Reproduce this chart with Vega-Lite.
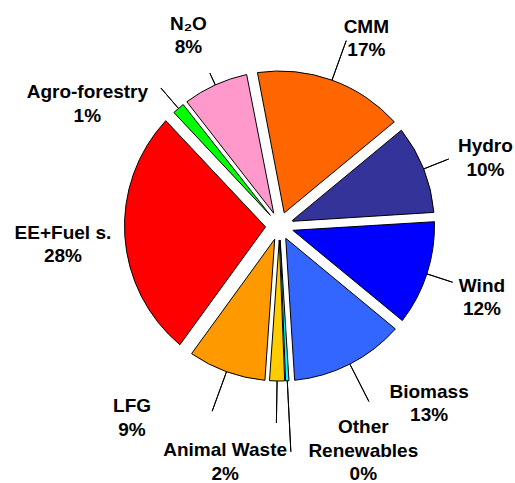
{
  "$schema": "https://vega.github.io/schema/vega-lite/v6.json",
  "width": 471,
  "height": 452,
  "autosize": {"type": "none"},
  "padding": {"left": 44, "top": 0, "right": 0, "bottom": 31},
  "background": "white",
  "config": {
    "view": {"stroke": null},
    "text": {"font": "Liberation Sans", "fontWeight": "bold", "fontSize": 19, "color": "black"}
  },
  "data": {
    "values": [
      {"k": 1, "name": "CMM", "label": "CMM\n17%", "v": 17},
      {"k": 2, "name": "Hydro", "label": "Hydro\n10%", "v": 10},
      {"k": 3, "name": "Wind", "label": "Wind\n12%", "v": 12},
      {"k": 4, "name": "Biomass", "label": "Biomass\n13%", "v": 13},
      {"k": 5, "name": "Other Renewables", "label": "Other\nRenewables\n0%", "v": 0.4},
      {"k": 6, "name": "Animal Waste", "label": "Animal Waste\n2%", "v": 1.7},
      {"k": 7, "name": "LFG", "label": "LFG\n9%", "v": 8.9},
      {"k": 8, "name": "EE+Fuel s.", "label": "EE+Fuel s.\n28%", "v": 28},
      {"k": 9, "name": "Agro-forestry", "label": "Agro-forestry\n1%", "v": 1.4},
      {"k": 10, "name": "N₂O", "label": "N₂O\n8%", "v": 7.6}
    ]
  },
  "transform": [
    {"stack": "v", "groupby": [], "sort": [{"field": "k", "order": "ascending"}], "as": ["v0", "v1"]}
  ],
  "layer": [
    {
      "transform": [{"filter": {"field": "name", "oneOf": ["EE+Fuel s."]}}],
      "mark": {"type": "arc", "padAngle": 0.139, "innerRadius": 14, "outerRadius": 155, "stroke": "black", "strokeWidth": 1},
      "encoding": {
        "theta": {"field": "v0", "type": "quantitative", "stack": null, "scale": {"domain": [0, 100], "range": [-0.1885, 6.0947]}},
        "theta2": {"field": "v1"},
        "color": {"field": "name", "type": "nominal", "legend": null, "scale": {"domain": ["CMM", "Hydro", "Wind", "Biomass", "Other Renewables", "Animal Waste", "LFG", "EE+Fuel s.", "Agro-forestry", "N₂O"], "range": ["#FF6600", "#333399", "#0000FF", "#3366FF", "#00FFFF", "#FFCC00", "#FF9900", "#FF0000", "#00FF00", "#FF99CC"]}}
      }
    },
    {
      "transform": [{"filter": {"field": "name", "oneOf": ["CMM"]}}],
      "mark": {"type": "arc", "padAngle": 0.091, "innerRadius": 14, "outerRadius": 155, "stroke": "black", "strokeWidth": 1},
      "encoding": {
        "theta": {"field": "v0", "type": "quantitative", "stack": null, "scale": {"domain": [0, 100], "range": [-0.1885, 6.0947]}},
        "theta2": {"field": "v1"},
        "color": {"field": "name", "type": "nominal", "legend": null}
      }
    },
    {
      "transform": [{"filter": {"field": "name", "oneOf": ["Biomass", "Wind"]}}],
      "mark": {"type": "arc", "padAngle": 0.07, "innerRadius": 14, "outerRadius": 155, "stroke": "black", "strokeWidth": 1},
      "encoding": {
        "theta": {"field": "v0", "type": "quantitative", "stack": null, "scale": {"domain": [0, 100], "range": [-0.1885, 6.0947]}},
        "theta2": {"field": "v1"},
        "color": {"field": "name", "type": "nominal", "legend": null}
      }
    },
    {
      "transform": [{"filter": {"field": "name", "oneOf": ["Hydro", "LFG", "N₂O"]}}],
      "mark": {"type": "arc", "padAngle": 0.05, "innerRadius": 14, "outerRadius": 155, "stroke": "black", "strokeWidth": 1},
      "encoding": {
        "theta": {"field": "v0", "type": "quantitative", "stack": null, "scale": {"domain": [0, 100], "range": [-0.1885, 6.0947]}},
        "theta2": {"field": "v1"},
        "color": {"field": "name", "type": "nominal", "legend": null}
      }
    },
    {
      "transform": [{"filter": {"field": "name", "oneOf": ["Animal Waste", "Agro-forestry"]}}],
      "mark": {"type": "arc", "padAngle": 0.009, "innerRadius": 14, "outerRadius": 155, "stroke": "black", "strokeWidth": 1},
      "encoding": {
        "theta": {"field": "v0", "type": "quantitative", "stack": null, "scale": {"domain": [0, 100], "range": [-0.1885, 6.0947]}},
        "theta2": {"field": "v1"},
        "color": {"field": "name", "type": "nominal", "legend": null}
      }
    },
    {
      "transform": [{"filter": {"field": "name", "oneOf": ["Other Renewables"]}}],
      "mark": {"type": "arc", "padAngle": 0.003, "innerRadius": 14, "outerRadius": 155, "stroke": "black", "strokeWidth": 1},
      "encoding": {
        "theta": {"field": "v0", "type": "quantitative", "stack": null, "scale": {"domain": [0, 100], "range": [-0.1885, 6.0947]}},
        "theta2": {"field": "v1"},
        "color": {"field": "name", "type": "nominal", "legend": null}
      }
    },
    {
      "transform": [{"filter": {"field": "name", "oneOf": ["N₂O"]}}],
      "mark": {"type": "arc", "padAngle": 3.1416, "innerRadius": 155, "outerRadius": 168, "stroke": "black", "strokeWidth": 1, "fill": null},
      "encoding": {
        "theta": {"field": "v0", "type": "quantitative", "stack": null, "scale": {"domain": [0, 100], "range": [-0.1885, 6.0947]}},
        "theta2": {"field": "v1"}
      }
    },
    {
      "transform": [{"filter": {"field": "name", "oneOf": ["Hydro", "Wind", "Agro-forestry"]}}],
      "mark": {"type": "arc", "padAngle": 3.1416, "innerRadius": 155, "outerRadius": 182, "stroke": "black", "strokeWidth": 1, "fill": null},
      "encoding": {
        "theta": {"field": "v0", "type": "quantitative", "stack": null, "scale": {"domain": [0, 100], "range": [-0.1885, 6.0947]}},
        "theta2": {"field": "v1"}
      }
    },
    {
      "transform": [{"filter": {"field": "name", "oneOf": ["CMM", "Biomass", "Animal Waste", "LFG"]}}],
      "mark": {"type": "arc", "padAngle": 3.1416, "innerRadius": 155, "outerRadius": 197, "stroke": "black", "strokeWidth": 1, "fill": null},
      "encoding": {
        "theta": {"field": "v0", "type": "quantitative", "stack": null, "scale": {"domain": [0, 100], "range": [-0.1885, 6.0947]}},
        "theta2": {"field": "v1"}
      }
    },
    {
      "transform": [{"filter": {"field": "name", "oneOf": ["Other Renewables"]}}],
      "mark": {"type": "arc", "padAngle": 3.1416, "innerRadius": 155, "outerRadius": 226, "stroke": "black", "strokeWidth": 1, "fill": null},
      "encoding": {
        "theta": {"field": "v0", "type": "quantitative", "stack": null, "scale": {"domain": [0, 100], "range": [-0.1885, 6.0947]}},
        "theta2": {"field": "v1"}
      }
    },
    {
      "transform": [
        {"filter": {"field": "name", "oneOf": ["Wind", "EE+Fuel s.", "N₂O"]}},
        {"fold": ["v0", "v1"], "as": ["edge", "pos"]},
        {"aggregate": [{"op": "mean", "field": "pos", "as": "mid"}], "groupby": ["name", "label"]}
      ],
      "mark": {"type": "text", "radius": 215, "dx": -2, "dy": -6.75, "lineBreak": "\n", "lineHeight": 23.5, "align": "center", "baseline": "middle"},
      "encoding": {
        "theta": {"field": "mid", "type": "quantitative", "stack": null, "scale": {"domain": [0, 100], "range": [-0.1885, 6.0947]}},
        "text": {"field": "label", "type": "nominal"}
      }
    },
    {
      "transform": [
        {"filter": {"field": "name", "oneOf": ["CMM"]}},
        {"fold": ["v0", "v1"], "as": ["edge", "pos"]},
        {"aggregate": [{"op": "mean", "field": "pos", "as": "mid"}], "groupby": ["name", "label"]}
      ],
      "mark": {"type": "text", "radius": 215, "dx": 14, "dy": 3.25, "lineBreak": "\n", "lineHeight": 23.5, "align": "center", "baseline": "middle"},
      "encoding": {
        "theta": {"field": "mid", "type": "quantitative", "stack": null, "scale": {"domain": [0, 100], "range": [-0.1885, 6.0947]}},
        "text": {"field": "label", "type": "nominal"}
      }
    },
    {
      "transform": [
        {"filter": {"field": "name", "oneOf": ["Hydro"]}},
        {"fold": ["v0", "v1"], "as": ["edge", "pos"]},
        {"aggregate": [{"op": "mean", "field": "pos", "as": "mid"}], "groupby": ["name", "label"]}
      ],
      "mark": {"type": "text", "radius": 215, "dx": 6, "dy": -0.75, "lineBreak": "\n", "lineHeight": 23.5, "align": "center", "baseline": "middle"},
      "encoding": {
        "theta": {"field": "mid", "type": "quantitative", "stack": null, "scale": {"domain": [0, 100], "range": [-0.1885, 6.0947]}},
        "text": {"field": "label", "type": "nominal"}
      }
    },
    {
      "transform": [
        {"filter": {"field": "name", "oneOf": ["Biomass"]}},
        {"fold": ["v0", "v1"], "as": ["edge", "pos"]},
        {"aggregate": [{"op": "mean", "field": "pos", "as": "mid"}], "groupby": ["name", "label"]}
      ],
      "mark": {"type": "text", "radius": 215, "dx": 52, "dy": -25.75, "lineBreak": "\n", "lineHeight": 23.5, "align": "center", "baseline": "middle"},
      "encoding": {
        "theta": {"field": "mid", "type": "quantitative", "stack": null, "scale": {"domain": [0, 100], "range": [-0.1885, 6.0947]}},
        "text": {"field": "label", "type": "nominal"}
      }
    },
    {
      "transform": [
        {"filter": {"field": "name", "oneOf": ["Other Renewables"]}},
        {"fold": ["v0", "v1"], "as": ["edge", "pos"]},
        {"aggregate": [{"op": "mean", "field": "pos", "as": "mid"}], "groupby": ["name", "label"]}
      ],
      "mark": {"type": "text", "radius": 215, "dx": 73, "dy": -13.5, "lineBreak": "\n", "lineHeight": 23.5, "align": "center", "baseline": "middle"},
      "encoding": {
        "theta": {"field": "mid", "type": "quantitative", "stack": null, "scale": {"domain": [0, 100], "range": [-0.1885, 6.0947]}},
        "text": {"field": "label", "type": "nominal"}
      }
    },
    {
      "transform": [
        {"filter": {"field": "name", "oneOf": ["Animal Waste"]}},
        {"fold": ["v0", "v1"], "as": ["edge", "pos"]},
        {"aggregate": [{"op": "mean", "field": "pos", "as": "mid"}], "groupby": ["name", "label"]}
      ],
      "mark": {"type": "text", "radius": 215, "dx": -51, "dy": 9.25, "lineBreak": "\n", "lineHeight": 23.5, "align": "center", "baseline": "middle"},
      "encoding": {
        "theta": {"field": "mid", "type": "quantitative", "stack": null, "scale": {"domain": [0, 100], "range": [-0.1885, 6.0947]}},
        "text": {"field": "label", "type": "nominal"}
      }
    },
    {
      "transform": [
        {"filter": {"field": "name", "oneOf": ["LFG"]}},
        {"fold": ["v0", "v1"], "as": ["edge", "pos"]},
        {"aggregate": [{"op": "mean", "field": "pos", "as": "mid"}], "groupby": ["name", "label"]}
      ],
      "mark": {"type": "text", "radius": 215, "dx": -74, "dy": -21.75, "lineBreak": "\n", "lineHeight": 23.5, "align": "center", "baseline": "middle"},
      "encoding": {
        "theta": {"field": "mid", "type": "quantitative", "stack": null, "scale": {"domain": [0, 100], "range": [-0.1885, 6.0947]}},
        "text": {"field": "label", "type": "nominal"}
      }
    },
    {
      "transform": [
        {"filter": {"field": "name", "oneOf": ["Agro-forestry"]}},
        {"fold": ["v0", "v1"], "as": ["edge", "pos"]},
        {"aggregate": [{"op": "mean", "field": "pos", "as": "mid"}], "groupby": ["name", "label"]}
      ],
      "mark": {"type": "text", "radius": 215, "dx": -52, "dy": 29.25, "lineBreak": "\n", "lineHeight": 23.5, "align": "center", "baseline": "middle"},
      "encoding": {
        "theta": {"field": "mid", "type": "quantitative", "stack": null, "scale": {"domain": [0, 100], "range": [-0.1885, 6.0947]}},
        "text": {"field": "label", "type": "nominal"}
      }
    }
  ]
}
